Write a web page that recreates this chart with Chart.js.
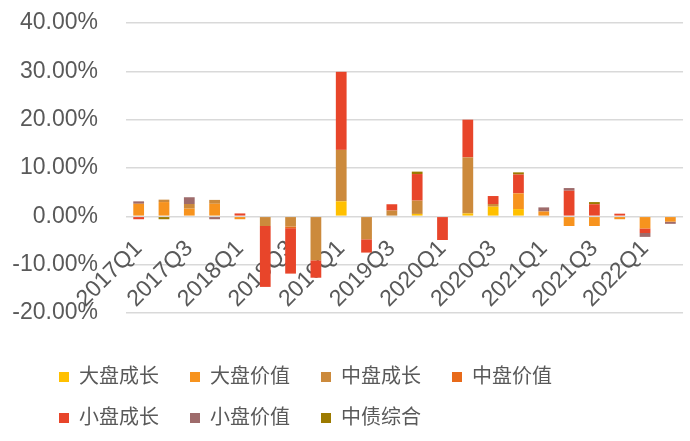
<!DOCTYPE html>
<html>
<head>
<meta charset="utf-8">
<script src="https://cdn.jsdelivr.net/npm/chart.js@4"></script>
<style>
  html, body { margin: 0; padding: 0; background: #fff; }
  #wrap { width: 690px; height: 441px; }
</style>
</head>
<body>
<div id="wrap"><canvas id="myChart"></canvas></div>
<script>
var quarters = ["2017Q1", "2017Q2", "2017Q3", "2017Q4", "2018Q1", "2018Q2", "2018Q3", "2018Q4",
	"2019Q1", "2019Q2", "2019Q3", "2019Q4", "2020Q1", "2020Q2", "2020Q3", "2020Q4",
	"2021Q1", "2021Q2", "2021Q3", "2021Q4", "2022Q1", "2022Q2"];

// contribution of each style, in percent
var largeGrowth = [0, 0, 0, 0, 0, 0, 0, 0, 3.1, 0, 0, 0.5, 0, 0.6, 2.0, 1.5, 0, 0, 0, 0, 0, 0];
var largeValue = [2.6, 2.95, 1.6, 2.6, -0.6, 0, 0, 0, 0, 0, 0, 0, 0, 0, 0, 3.25, 1.0, -2.0, -2.0, -0.6, -2.5, -1.1];
var midGrowth = [0, 0.5, 0.95, 0.8, 0, -2.0, -2.1, -9.1, 10.65, -4.75, 1.2, 2.75, 0, 11.6, 0.55, 0, 0, 0, 0, 0, 0, 0];
var midValue = [0, 0, 0, 0, 0, 0, -0.35, 0, 0, 0, 0, 0, 0, 0, 0, 0, 0, 0, 0, 0, 0, 0];
var smallGrowth = [-0.6, 0, 0, 0, 0.6, -12.6, -9.4, -3.6, 16.15, -2.75, 1.3, 5.5, -4.9, 7.8, 1.65, 3.9, 0, 5.3, 2.5, 0.55, -0.95, 0];
var smallValue = [0.5, 0, 1.4, -0.6, 0, 0, 0, 0, 0, 0, 0, 0, 0, 0, 0, 0, 0.85, 0.55, 0, 0, -0.8, -0.45];
var bondIndex = [0, -0.6, 0, 0, 0, 0, 0, 0, 0, 0, 0, 0.5, 0, 0, 0, 0.45, 0, 0, 0.45, 0, 0, 0];

var yTicks = [-20, -10, 0, 10, 20, 30, 40];

var GRAY = "#595959";
var FONT = '"Liberation Sans", "Noto Sans CJK SC", sans-serif';

function ds(label, values, color) {
	return {
		label: label,
		data: values,
		backgroundColor: color,
		borderWidth: 0,
		categoryPercentage: 0.85,
		barPercentage: 0.5
	};
}

// the legend starts further right than the y axis labels, so nudge it over
var legendShift = {
	id: "legendShift",
	afterLayout: function (chart) {
		chart.legend.left += 28;
		chart.legend.right += 28;
	}
};

var data = {
	labels: quarters,
	datasets: [
		ds("大盘成长", largeGrowth, "#FFC000"),
		ds("大盘价值", largeValue, "#F7931E"),
		ds("中盘成长", midGrowth, "#CC8A3C"),
		ds("中盘价值", midValue, "#E86A1A"),
		ds("小盘成长", smallGrowth, "#E8452A"),
		ds("小盘价值", smallValue, "#9E6B6B"),
		ds("中债综合", bondIndex, "#9C7A00")
	]
};

var options = {
	responsive: true,
	maintainAspectRatio: false,
	animation: false,
	layout: { padding: { left: 10, right: 5, top: 23, bottom: 3 } },
	plugins: {
		tooltip: { enabled: false },
		legend: {
			position: "bottom",
			align: "start",
			title: { display: true, text: "", font: { size: 10 }, padding: { top: 0, bottom: 21 } },
			labels: {
				boxWidth: 10,
				boxHeight: 10,
				padding: 21,
				color: GRAY,
				font: { family: FONT, size: 20 },
				generateLabels: function (chart) {
					var items = Chart.defaults.plugins.legend.labels.generateLabels(chart);
					items.forEach(function (it) { it.text = it.text + "\u2002"; });
					return items;
				}
			}
		}
	},
	scales: {
		x: {
			stacked: true,
			position: { y: 0 },
			z: 1,
			grid: { display: false, drawTicks: true, tickLength: 19 },
			border: { display: false },
			ticks: {
				autoSkip: false,
				minRotation: 45,
				maxRotation: 45,
				padding: 0,
				color: GRAY,
				font: { family: FONT, size: 23 },
				callback: function (v, i) { return i % 2 === 0 ? quarters[i] : ""; }
			}
		},
		y: {
			stacked: true,
			min: yTicks[0],
			max: yTicks[yTicks.length - 1],
			afterBuildTicks: function (s) { s.ticks = yTicks.map(function (v) { return { value: v }; }); },
			afterFit: function (s) { s.width = 116; },
			grid: { color: "#D9D9D9", lineWidth: 1.5, drawTicks: true, tickLength: 28, tickColor: "rgba(0,0,0,0)" },
			border: { display: false },
			ticks: {
				padding: 0,
				color: GRAY,
				font: { family: FONT, size: 23 },
				callback: function (v) { return v.toFixed(2) + "%"; }
			}
		}
	}
};

new Chart(document.getElementById("myChart"), { type: "bar", data: data, options: options, plugins: [legendShift] });
</script>
</body>
</html>
